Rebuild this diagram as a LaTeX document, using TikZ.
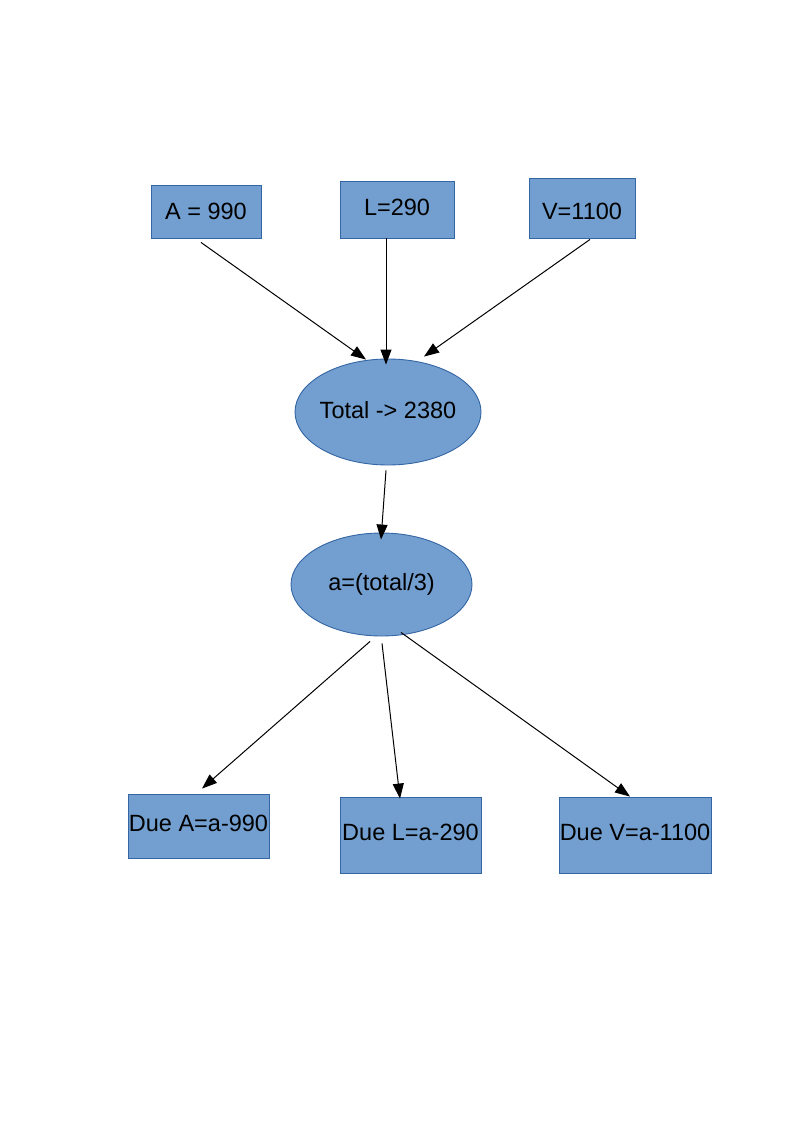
\documentclass[tikz,border=0pt]{standalone}
\usepackage{fontspec}
\setmainfont{Liberation Sans}
\usetikzlibrary{shapes.geometric,arrows.meta}
\definecolor{boxfill}{HTML}{729FCF}
\definecolor{boxline}{HTML}{3465A4}
\tikzset{
  box/.style={rectangle,draw=boxline,fill=boxfill,line width=0.9pt,inner sep=0pt,
    font=\fontsize{23.5}{27}\selectfont,text=black},
  oval/.style={ellipse,draw=boxline,fill=boxfill,line width=0.9pt,inner sep=0pt,
    inner xsep=-12pt,font=\fontsize{23.5}{27}\selectfont,text=black},
  raised/.style={text height=17pt,text depth=6.2pt},
  arr/.style={-{Triangle[length=15pt,width=11pt]},line width=1pt,black}
}
\begin{document}
\begin{tikzpicture}[x=1pt,y=-1pt]
\useasboundingbox (0,0) rectangle (794,1123);
\node[box,minimum width=110pt,minimum height=53pt] (A) at (206,211.5) {A = 990};
\node[box,minimum width=114pt,minimum height=57pt,text height=17pt,text depth=5.2pt] (L) at (397,209.5) {L=290};
\node[box,minimum width=106pt,minimum height=60pt,text height=23pt,text depth=0.2pt] (V) at (582,208) {V=1100};
\node[oval,minimum width=186pt,minimum height=106pt,text height=17pt,text depth=4.2pt] (tot) at (388,412) {Total -> 2380};
\node[oval,minimum width=181pt,minimum height=103pt,text height=17pt,text depth=5pt] (avg) at (381.5,584.5) {a=(total/3)};
\node[box,raised,minimum width=141pt,minimum height=64pt] (dA) at (198.5,826) {Due A=a-990};
\node[box,raised,minimum width=141pt,minimum height=76pt] (dL) at (410.5,835) {Due L=a-290};
\node[box,raised,minimum width=152pt,minimum height=76pt] (dV) at (635,835) {Due V=a-1100};
\draw[arr] ([xshift=-5pt,yshift=-4pt]A.south) -- ([xshift=-22pt,yshift=-1pt]tot.north);
\draw[arr] ([xshift=-11pt]L.south) -- ([xshift=-2pt,yshift=-6pt]tot.north);
\draw[arr] ([xshift=8pt,yshift=-1pt]V.south) -- ([xshift=36pt,yshift=2pt]tot.north);
\draw[arr] ([xshift=-2pt,yshift=-5pt]tot.south) -- ([xshift=-0.5pt,yshift=-7pt]avg.north);
\draw[arr] ([xshift=-11.5pt,yshift=-5pt]avg.south) -- ([xshift=3.5pt,yshift=5pt]dA.north);
\draw[arr] ([xshift=0.5pt,yshift=-7pt]avg.south) -- ([xshift=-10.5pt,yshift=-2pt]dL.north);
\draw[arr] ([xshift=19.5pt,yshift=4pt]avg.south) -- ([xshift=-5pt,yshift=0pt]dV.north);
\end{tikzpicture}
\end{document}
